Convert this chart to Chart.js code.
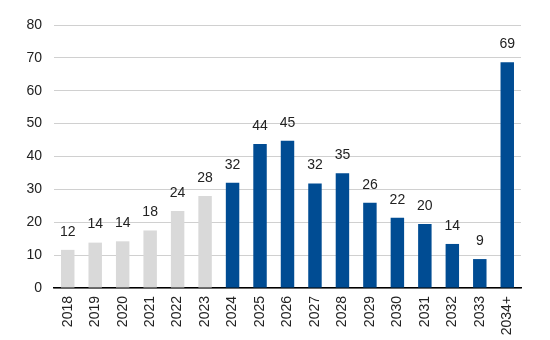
<!DOCTYPE html>
<html>
<head>
<meta charset="utf-8">
<script src="https://cdn.jsdelivr.net/npm/chart.js@4/dist/chart.umd.min.js"></script>
<style>
html,body{margin:0;padding:0;background:#fff;}
#wrap{width:550px;height:340px;position:relative;}
</style>
</head>
<body>
<div id="wrap"><canvas id="c" width="550" height="340"></canvas></div>
<script>
const categories = ["2018","2019","2020","2021","2022","2023","2024","2025","2026","2027","2028","2029","2030","2031","2032","2033","2034+"];
const values = [11.6, 13.8, 14.2, 17.5, 23.4, 28.0, 32.0, 43.8, 44.8, 31.8, 34.9, 25.9, 21.4, 19.5, 13.4, 8.8, 68.7];
const valueLabels = ["12","14","14","18","24","28","32","44","45","32","35","26","22","20","14","9","69"];
const historicCount = 6;
const yTicks = [0,10,20,30,40,50,60,70,80];

const grayColor = "#d9d9d9";
const blueColor = "#004c93";
const barColors = categories.map((c,i) => i < historicCount ? grayColor : blueColor);

const labelPlugin = {
  id: 'valueLabels',
  afterDatasetsDraw(chart) {
    const ctx = chart.ctx;
    const meta = chart.getDatasetMeta(0);
    ctx.save();
    ctx.font = '14px "Liberation Sans", Arial, sans-serif';
    ctx.fillStyle = '#222';
    ctx.textAlign = 'center';
    ctx.textBaseline = 'middle';
    meta.data.forEach((bar, i) => {
      ctx.fillText(valueLabels[i], bar.x, bar.y - 18);
    });
    ctx.restore();
  }
};

new Chart(document.getElementById('c'), {
  type: 'bar',
  data: {
    labels: categories,
    datasets: [{
      data: values,
      backgroundColor: barColors,
      borderWidth: 0,
      categoryPercentage: 1.0,
      barPercentage: 0.49
    }]
  },
  options: {
    responsive: false,
    animation: false,
    layout: { padding: { left: 0, right: 29, top: 25, bottom: 0 } },
    plugins: { legend: { display: false }, tooltip: { enabled: false } },
    scales: {
      x: {
        grid: { display: false, drawTicks: false },
        border: { display: true, color: '#000', width: 1.5 },
        ticks: {
          font: { family: '"Liberation Sans", Arial, sans-serif', size: 14 },
          color: '#222',
          maxRotation: 90,
          minRotation: 90,
          padding: 8,
          autoSkip: false
        },
        afterFit(scale) { scale.height = 52; }
      },
      y: {
        min: 0,
        max: 80,
        afterBuildTicks(scale) { scale.ticks = yTicks.map(v => ({ value: v })); },
        grid: { color: '#d0d0d0', lineWidth: 1, drawTicks: false },
        border: { display: false },
        ticks: {
          font: { family: '"Liberation Sans", Arial, sans-serif', size: 14 },
          color: '#222',
          padding: 12
        },
        afterFit(scale) { scale.width = 54; }
      }
    }
  },
  plugins: [labelPlugin]
});
</script>
</body>
</html>
